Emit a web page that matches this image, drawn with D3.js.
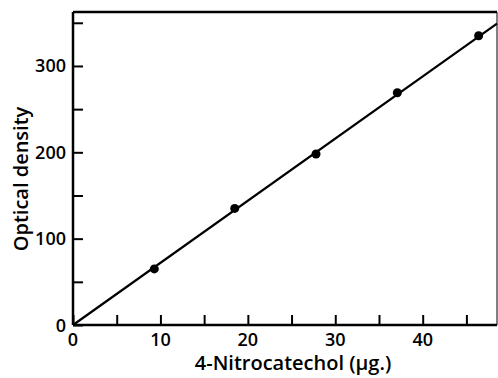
<!DOCTYPE html>
<html lang="en">
<head>
    <meta charset="UTF-8">
    <title>4-Nitrocatechol calibration</title>
    <script src="https://d3js.org/d3.v7.min.js"></script>
    <style>
        body {
            margin: 0;
            background-color: #ffffff;
        }
        svg text {
            font-family: "Open Sans", Lato, sans-serif;
            font-weight: 600;
            fill: #000;
        }
    </style>
</head>
<body>
    <div id="chart"></div>
    <script>
        // Dati
        const amounts = [9.3, 18.5, 27.8, 37.1, 46.4];
        const densities = [65, 135, 198, 269, 335];
        const fitLine = [[0, 0], [48.5, 349]];
        const xTicks = [0, 10, 20, 30, 40];
        const yTicks = [0, 100, 200, 300];
        const xMinor = [5, 15, 25, 35, 45];
        const yMinor = [50, 150, 250, 350];

        const width = 498;
        const height = 378;
        const mLeft = 73, mTop = 12, mRight = 497, mBottom = 325;

        const x = d3.scaleLinear().domain([0, 48.5]).range([mLeft, mRight]);
        const y = d3.scaleLinear().domain([0, 362.5]).range([mBottom, mTop]);

        const svg = d3.select("#chart")
            .append("svg")
            .attr("width", width)
            .attr("height", height);

        // Cornice
        svg.append("line")
            .attr("x1", mRight).attr("y1", mTop).attr("x2", mRight).attr("y2", mBottom)
            .attr("stroke", "#000").attr("stroke-width", 1);
        svg.append("line")
            .attr("x1", mLeft).attr("y1", mTop).attr("x2", mRight).attr("y2", mTop)
            .attr("stroke", "#000").attr("stroke-width", 2.5);

        // Assi con tacche verso l'interno
        const xAxis = svg.append("g")
            .attr("transform", `translate(0,${mBottom})`)
            .call(d3.axisBottom(x).tickValues(xTicks.concat(xMinor)).tickSize(-10).tickFormat(""));
        xAxis.select(".domain").attr("stroke-width", 2.5).attr("d", `M${mLeft},0H${mRight}`);
        xAxis.selectAll(".tick line").attr("stroke-width", 2);

        const yAxis = svg.append("g")
            .attr("transform", `translate(${mLeft},0)`)
            .call(d3.axisLeft(y).tickValues(yTicks.concat(yMinor)).tickSize(-10).tickFormat(""));
        yAxis.select(".domain").attr("stroke-width", 2.5).attr("d", `M0,${mBottom}V${mTop}`);
        yAxis.selectAll(".tick line").attr("stroke-width", 2);

        // Etichette delle tacche
        svg.selectAll(".xlab")
            .data(xTicks)
            .enter()
            .append("text")
            .attr("class", "xlab")
            .attr("x", d => x(d))
            .attr("y", 346)
            .attr("text-anchor", "middle")
            .attr("font-size", "18px")
            .text(d => d);

        svg.selectAll(".ylab")
            .data(yTicks)
            .enter()
            .append("text")
            .attr("class", "ylab")
            .attr("x", mLeft - 7)
            .attr("y", d => y(d) + 6.5)
            .attr("text-anchor", "end")
            .attr("font-size", "18px")
            .text(d => d);

        // Titoli degli assi
        svg.append("text")
            .attr("x", 293)
            .attr("y", 370)
            .attr("text-anchor", "middle")
            .attr("font-size", "20px")
            .text("4-Nitrocatechol (\u03BCg.)");

        svg.append("text")
            .attr("transform", "translate(28,179) rotate(-90)")
            .attr("text-anchor", "middle")
            .attr("font-size", "20px")
            .text("Optical density");

        // Retta
        svg.append("path")
            .datum(fitLine)
            .attr("fill", "none")
            .attr("stroke", "#000")
            .attr("stroke-width", 2.2)
            .attr("d", d3.line().x(d => x(d[0])).y(d => y(d[1])));

        // Punti
        svg.selectAll(".dot")
            .data(amounts)
            .enter()
            .append("circle")
            .attr("class", "dot")
            .attr("cx", d => x(d))
            .attr("cy", (d, i) => y(densities[i]))
            .attr("r", 4.5)
            .attr("fill", "#000");
    </script>
</body>
</html>
